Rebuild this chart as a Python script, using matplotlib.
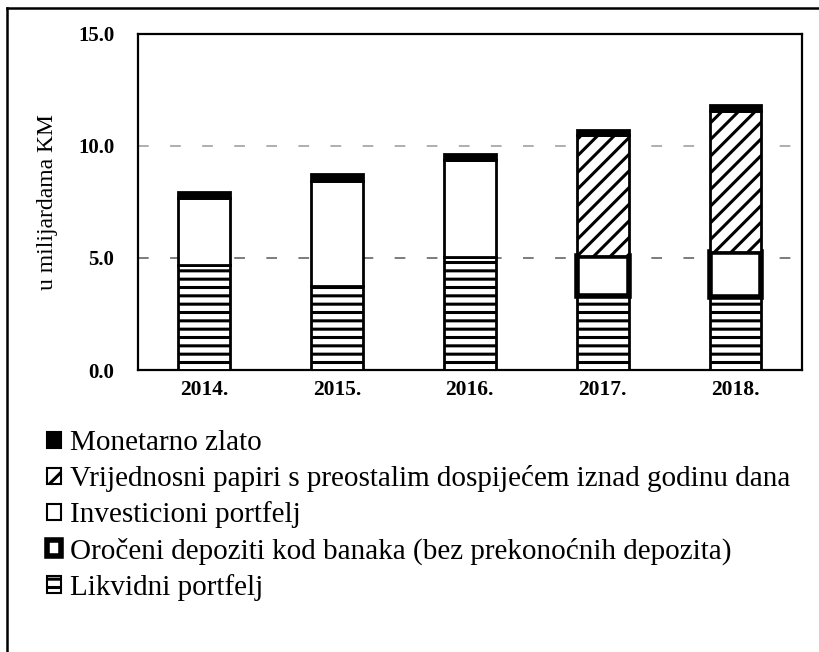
import numpy as np
import matplotlib
matplotlib.use("Agg")
import matplotlib.pyplot as plt
from matplotlib.patches import Patch
from matplotlib.lines import Line2D

plt.rcParams['font.family'] = ['Liberation Serif', 'DejaVu Serif']
plt.rcParams['hatch.linewidth'] = 2.2
plt.rcParams['hatch.color'] = 'black'

# u milijardama KM
years = ['2014.', '2015.', '2016.', '2017.', '2018.']
likvidni = [4.70, 3.75, 5.05, 3.30, 3.25]
oroceni = [0.00, 0.00, 0.00, 1.80, 2.00]
investicioni = [2.95, 4.67, 4.32, 0.00, 0.00]
vrijednosni = [0.00, 0.00, 0.00, 5.36, 6.30]
zlato = [0.27, 0.30, 0.27, 0.23, 0.27]

labels = ['Likvidni portfelj',
          'Oročeni depoziti kod banaka (bez prekonoćnih depozita)',
          'Investicioni portfelj',
          'Vrijednosni papiri s preostalim dospijećem iznad godinu dana',
          'Monetarno zlato']

fig = plt.figure(figsize=(8.2, 6.52), dpi=100)
ax = fig.add_axes([0.168, 0.4325, 0.81, 0.516])

x = np.arange(len(years))
w = 0.39
bottom = np.zeros(len(years))

styles = [
    dict(facecolor='white', edgecolor='black', hatch='--', linewidth=2),
    dict(facecolor='white', edgecolor='black', linewidth=4),
    dict(facecolor='white', edgecolor='black', linewidth=2),
    dict(facecolor='white', edgecolor='black', hatch='//', linewidth=2),
    dict(facecolor='black', edgecolor='black', linewidth=2),
]
series = [likvidni, oroceni, investicioni, vrijednosni, zlato]
for vals, st in zip(series, styles):
    vals = np.array(vals)
    mask = vals > 0
    ax.bar(x[mask], vals[mask], w, bottom=bottom[mask], zorder=3, **st)
    bottom += vals

ax.set_xlim(-0.5, 4.5)
ax.set_ylim(0, 15)
ax.set_yticks([0, 5, 10, 15])
ax.set_yticklabels(['0.0', '5.0', '10.0', '15.0'], fontsize=15, fontweight='bold')
ax.set_xticks(x)
ax.set_xticklabels(years, fontsize=15.5, fontweight='bold')
ax.tick_params(axis='x', length=0, pad=7)
ax.tick_params(axis='y', length=0, pad=17)
ax.set_ylabel('u milijardama KM', fontsize=17, labelpad=14)

for yv in [5, 10]:
    ax.axhline(yv, color='0.35' if yv == 5 else '0.6', lw=1.1,
               linestyle=(0, (7, 14)), zorder=1)

for s in ax.spines.values():
    s.set_linewidth(1.6)

# legend with small square handles, top of stack first
handles = [
    Patch(facecolor='black', edgecolor='black', linewidth=1.5),
    Patch(facecolor='white', edgecolor='black', hatch='/', linewidth=1.5),
    Patch(facecolor='white', edgecolor='black', linewidth=1.5),
    Patch(facecolor='white', edgecolor='black', linewidth=4),
    Patch(facecolor='white', edgecolor='black', hatch='--', linewidth=1.5),
]
fig.legend(handles, labels[::-1], loc='upper left', bbox_to_anchor=(0.057, 0.34),
           frameon=False, fontsize=21, handlelength=0.5, handleheight=0.5,
           handletextpad=0.3, labelspacing=0.31, borderpad=0, borderaxespad=0)

# page frame
fig.add_artist(Line2D([0.008, 1.0], [0.988, 0.988], color='black', lw=1.8))
fig.add_artist(Line2D([0.008, 0.008], [0.0, 0.988], color='black', lw=1.8))

fig.savefig('out.png', dpi=100)
